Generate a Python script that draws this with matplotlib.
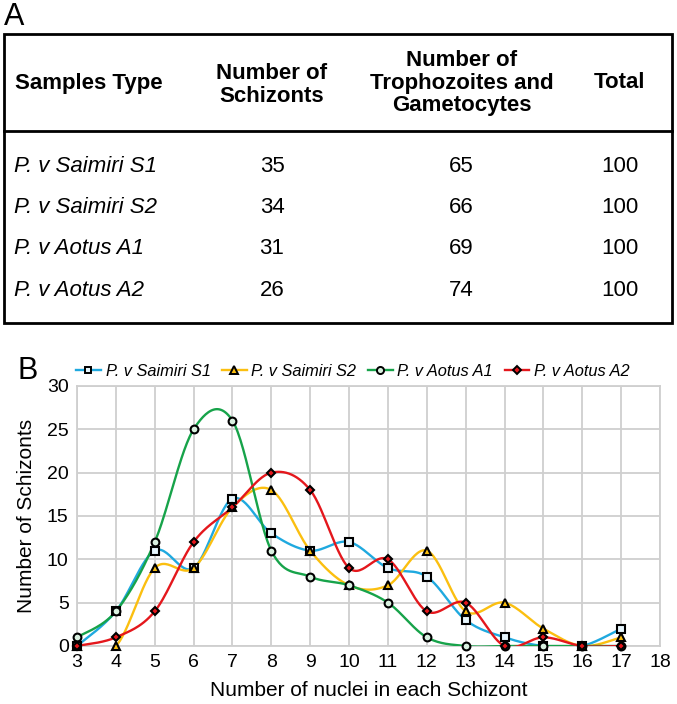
import numpy as np
import matplotlib
matplotlib.use("Agg")
import matplotlib.pyplot as plt
from matplotlib.lines import Line2D

plt.rcParams['font.family'] = ['Liberation Sans', 'DejaVu Sans']

# ---- Panel A table data
samples = ['P. v Saimiri S1', 'P. v Saimiri S2', 'P. v Aotus A1', 'P. v Aotus A2']
n_schizonts = [35, 34, 31, 26]
n_troph = [65, 66, 69, 74]
totals = [100, 100, 100, 100]

# ---- Panel B data (number of nuclei per schizont)
nuclei = [3, 4, 5, 6, 7, 8, 9, 10, 11, 12, 13, 14, 15, 16, 17]
s1 = [0, 4, 11, 9, 17, 13, 11, 12, 9, 8, 3, 1, 0, 0, 2]
s2 = [0, 0, 9, 9, 16, 18, 11, 7, 7, 11, 4, 5, 2, 0, 1]
a1 = [1, 4, 12, 25, 26, 11, 8, 7, 5, 1, 0, 0, 0, 0, 0]
a2 = [0, 1, 4, 12, 16, 20, 18, 9, 10, 4, 5, 0, 1, 0, 0]

colors = ['#1fa9df', '#fbbf10', '#17a34a', '#e4171c']
mfaces = ['#e6f5fc', '#fbbf10', '#d9f0e0', '#e4171c']
markers = ['s', '^', 'o', 'D']
msizes = [5.2, 5.8, 5.6, 4.2]

W, H = 677, 704
fig = plt.figure(figsize=(W / 100, H / 100), dpi=100)


def smooth(x, y, n=30):
    # Catmull-Rom like the spreadsheet "smoothed line"
    x = np.asarray(x, float)
    y = np.asarray(y, float)
    px = np.concatenate([[x[0]], x, [x[-1]]])
    py = np.concatenate([[y[0]], y, [y[-1]]])
    xs, ys = [], []
    t = np.linspace(0, 1, n)
    for i in range(1, len(px) - 2):
        m1x = (px[i + 1] - px[i - 1]) / 2
        m2x = (px[i + 2] - px[i]) / 2
        m1y = (py[i + 1] - py[i - 1]) / 2
        m2y = (py[i + 2] - py[i]) / 2
        h00 = 2 * t**3 - 3 * t**2 + 1
        h10 = t**3 - 2 * t**2 + t
        h01 = -2 * t**3 + 3 * t**2
        h11 = t**3 - t**2
        xs.append(h00 * px[i] + h10 * m1x + h01 * px[i + 1] + h11 * m2x)
        ys.append(h00 * py[i] + h10 * m1y + h01 * py[i + 1] + h11 * m2y)
    return np.concatenate(xs), np.concatenate(ys)


# ---------------- Panel A: table drawn in pixel coords
axt = fig.add_axes([0, 0, 1, 1])
axt.set_xlim(0, W)
axt.set_ylim(H, 0)
axt.axis('off')
axt.set_zorder(-1)

axt.text(4, 17, 'A', fontsize=22, va='center', ha='left')
axt.add_patch(plt.Rectangle((4, 34), 668, 289, fill=False, lw=2, ec='black'))
axt.plot([4, 672], [131, 131], color='black', lw=2)

hdr = dict(fontsize=16, fontweight='bold', va='center', ha='center', linespacing=1.12)
axt.text(15, 83, 'Samples Type', fontsize=16, fontweight='bold', va='center', ha='left')
axt.text(272, 85, 'Number of\nSchizonts', **hdr)
axt.text(462, 83, 'Number of\nTrophozoites and\nGametocytes', **hdr)
axt.text(619, 83, 'Total', **hdr)

row_y = [166, 207.5, 249, 290.5]
for i in range(len(samples)):
    y = row_y[i]
    axt.text(14, y, samples[i], fontsize=16, style='italic', va='center', ha='left')
    axt.text(272, y, str(n_schizonts[i]), fontsize=16, va='center', ha='center')
    axt.text(461, y, str(n_troph[i]), fontsize=16, va='center', ha='center')
    axt.text(620, y, str(totals[i]), fontsize=16, va='center', ha='center')

axt.text(18, 371, 'B', fontsize=22, va='center', ha='left')

# ---------------- Panel B: line chart
ax = fig.add_axes([77 / W, 1 - 646 / H, (660 - 77) / W, (646 - 386) / H])
series = [s1, s2, a1, a2]
handles = []
for k, ys in enumerate(series):
    sx, sy = smooth(nuclei, ys)
    ax.plot(sx, sy, color=colors[k], lw=1.7, zorder=3)
    ax.plot(nuclei, ys, ls='none', marker=markers[k], ms=msizes[k],
            mfc=mfaces[k], mec='black', mew=1.5, zorder=4, clip_on=False)
    handles.append(Line2D([], [], color=colors[k], lw=1.7, marker=markers[k],
                          ms=msizes[k] - 0.5, mfc=mfaces[k], mec='black', mew=1.4))

ax.set_xlim(3, 18)
ax.set_ylim(0, 30)
ax.set_xticks(range(3, 19))
ax.set_yticks(range(0, 31, 5))
ax.grid(True, color='#cfcfcf', lw=1.3)
ax.set_axisbelow(True)
for sp in ax.spines.values():
    sp.set_color('#cfcfcf')
    sp.set_linewidth(1.3)
ax.tick_params(length=0, labelsize=14, pad=6)
ax.set_xlabel('Number of nuclei in each Schizont', fontsize=15, labelpad=7)
ax.set_ylabel('Number of Schizonts', fontsize=15, labelpad=8)

fig.legend(handles, samples, loc='center left', bbox_to_anchor=(76 / W, 1 - 371 / H),
           ncol=4, frameon=False, prop={'style': 'italic', 'size': 11.8},
           handlelength=1.5, handletextpad=0.3, columnspacing=0.7, borderaxespad=0,
           borderpad=0)

fig.savefig('out.png', dpi=100)
